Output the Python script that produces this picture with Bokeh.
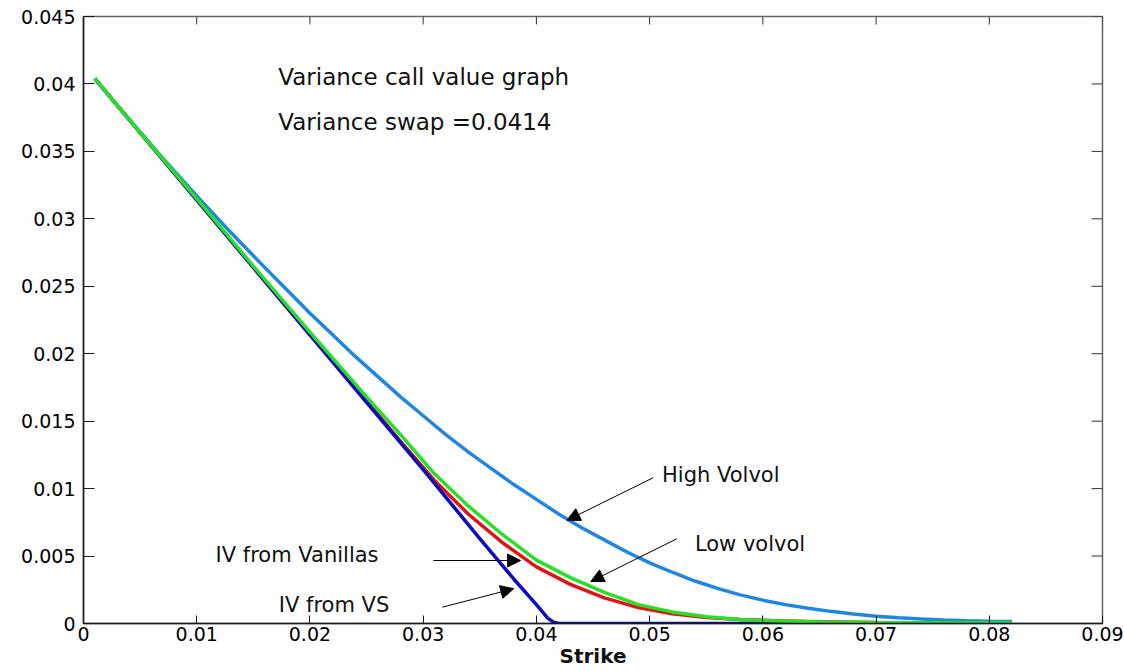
import math
from bokeh.plotting import figure
from bokeh.models import LinearAxis, FixedTicker, Range1d, Label, Arrow, NormalHead
from bokeh.embed import file_html
from bokeh.resources import INLINE

# ---- data ----
k_vs = [0.001, 0.005, 0.010, 0.015, 0.020, 0.025, 0.030, 0.035, 0.038, 0.040, 0.041, 0.0415, 0.042, 0.050, 0.060, 0.070, 0.082]
c_vs = [0.0404, 0.0364, 0.0314, 0.0264, 0.0214, 0.0164, 0.0114, 0.0063, 0.0033, 0.0014, 0.0004, 0.0001, 0.0, 0.0, 0.0, 0.0, 0.0]

k_grid = [0.001, 0.005, 0.010, 0.015, 0.020, 0.025, 0.028, 0.031, 0.034, 0.037, 0.040, 0.043, 0.046, 0.049,
          0.052, 0.055, 0.058, 0.061, 0.065, 0.070, 0.075, 0.082]
c_vanilla = [0.0404, 0.0364, 0.0314, 0.0264, 0.0214, 0.0165, 0.0135, 0.0106, 0.0081, 0.0060, 0.0042, 0.0029,
             0.0019, 0.00118, 0.00072, 0.00045, 0.0003, 0.00021, 0.00013, 0.00008, 0.00005, 0.00003]
c_low = [0.0404, 0.0364, 0.0315, 0.0265, 0.0216, 0.0168, 0.0140, 0.0111, 0.0087, 0.0066, 0.0047, 0.0034,
         0.0023, 0.0014, 0.00086, 0.0005, 0.0003, 0.0002, 0.00012, 0.00008, 0.00006, 0.00005]

k_high = [0.001, 0.004, 0.007, 0.010, 0.013, 0.016, 0.018, 0.020, 0.022, 0.024, 0.026, 0.028, 0.030, 0.032,
          0.034, 0.036, 0.038, 0.040, 0.042, 0.044, 0.046, 0.048, 0.050, 0.052, 0.054, 0.056, 0.058, 0.060,
          0.062, 0.064, 0.066, 0.068, 0.070, 0.072, 0.074, 0.076, 0.078, 0.080, 0.082]
c_high = [0.0404, 0.0374, 0.0345, 0.0317, 0.0290, 0.0264, 0.0247, 0.0230, 0.0214, 0.0198, 0.0183, 0.0168,
          0.0154, 0.0140, 0.0127, 0.0115, 0.0103, 0.0092, 0.0081, 0.0071, 0.0062, 0.0053, 0.0045, 0.0038,
          0.00315, 0.0026, 0.00212, 0.00173, 0.0014, 0.00113, 0.0009, 0.0007, 0.00054, 0.00042, 0.00033,
          0.00026, 0.00021, 0.00017, 0.00015]

x_ticks = [0, 0.01, 0.02, 0.03, 0.04, 0.05, 0.06, 0.07, 0.08, 0.09]
x_tick_labels = ["0", "0.01", "0.02", "0.03", "0.04", "0.05", "0.06", "0.07", "0.08", "0.09"]
y_ticks = [0, 0.005, 0.01, 0.015, 0.02, 0.025, 0.03, 0.035, 0.04, 0.045]
y_tick_labels = ["0", "0.005", "0.01", "0.015", "0.02", "0.025", "0.03", "0.035", "0.04", "0.045"]

text_items = ["Variance call value graph", "Variance swap =0.0414", "High Volvol", "Low volvol",
              "IV from Vanillas", "IV from VS"]
text_x = [0.0172, 0.0172, 0.0511, 0.0540, 0.01166, 0.01725]
text_y = [0.0405, 0.03716, 0.01102, 0.00586, 0.00509, 0.00139]
text_size = ["23px", "23px", "21px", "21px", "21px", "21px"]

arrow_tail_x = [0.0503, 0.0524, 0.0309, 0.0317]
arrow_tail_y = [0.0108, 0.00628, 0.00467, 0.00121]
arrow_tip_x = [0.0427, 0.0448, 0.0386, 0.0380]
arrow_tip_y = [0.00765, 0.00311, 0.00467, 0.00258]

FONT = "DejaVu Sans"

p = figure(width=1124, height=671, min_border_left=83, min_border_right=22,
           min_border_top=16, min_border_bottom=48,
           x_range=Range1d(x_ticks[0], x_ticks[-1]), y_range=Range1d(y_ticks[0], y_ticks[-1]),
           output_backend="svg", toolbar_location=None,
           x_axis_location=None, y_axis_location=None)
p.outline_line_color = "#666666"
p.outline_line_width = 1.5
p.xgrid.visible = False
p.ygrid.visible = False
p.background_fill_color = "white"
p.border_fill_color = "white"

def make_axis(ticks, labels, tick_len):
    ax = LinearAxis(ticker=FixedTicker(ticks=ticks))
    ax.major_label_overrides = {t: l for t, l in zip(ticks, labels)}
    ax.minor_tick_line_color = None
    ax.major_tick_in = tick_len
    ax.major_tick_out = 0
    ax.axis_line_color = "#1a1a1a"
    ax.major_tick_line_color = "#1a1a1a"
    ax.axis_line_width = 1.5
    ax.major_label_text_font = FONT
    ax.major_label_text_color = "black"
    ax.major_label_text_font_size = "19px"
    return ax

xb = make_axis(x_ticks, x_tick_labels, 8)
xb.major_label_standoff = 3
xb.axis_label = "Strike"
xb.axis_label_text_font = FONT
xb.axis_label_text_font_size = "20px"
xb.axis_label_text_font_style = "bold"
xb.axis_label_text_color = "#111111"
xb.axis_label_standoff = 0
yl = make_axis(y_ticks, y_tick_labels, 11)
yl.major_label_standoff = 8
p.add_layout(xb, "below")
p.add_layout(yl, "left")

# inward ticks on the top and right sides of the box
p.ray(x=x_ticks, y=[y_ticks[-1]] * len(x_ticks), length=8, length_units="screen",
      angle=-math.pi / 2, line_color="#333333", line_width=1)
p.ray(x=[x_ticks[-1]] * len(y_ticks), y=y_ticks, length=11, length_units="screen",
      angle=math.pi, line_color="#333333", line_width=1)

# curves
p.line(k_grid, c_vanilla, line_color="#e01414", line_width=3.5)
p.line(k_vs, c_vs, line_color="#0b0bc4", line_width=3.5)
p.line(k_high, c_high, line_color="#1f86e2", line_width=3.5)
p.line(k_grid, c_low, line_color="#26e026", line_width=3.5)

# arrows
for xs, ys, xe, ye in zip(arrow_tail_x, arrow_tail_y, arrow_tip_x, arrow_tip_y):
    p.add_layout(Arrow(x_start=xs, y_start=ys, x_end=xe, y_end=ye, line_color="black", line_width=1,
                       end=NormalHead(size=13, fill_color="black", line_color="black", line_width=1)))

for t, x, y, s in zip(text_items, text_x, text_y, text_size):
    p.add_layout(Label(x=x, y=y, text=t, text_font=FONT, text_font_size=s, text_color="#111111",
                       text_baseline="alphabetic", text_align="left"))

open("out.html", "w").write(file_html(p, INLINE))
